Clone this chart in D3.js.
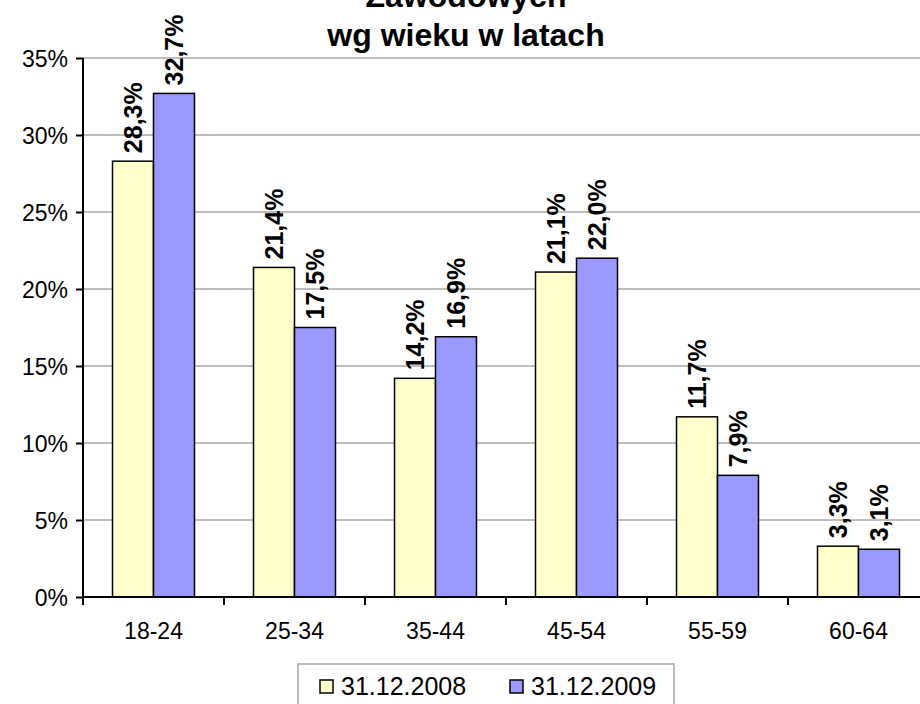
<!DOCTYPE html>
<html>
<head>
<meta charset="utf-8">
<script src="https://cdn.jsdelivr.net/npm/d3@7"></script>
<style>
  body { margin: 0; background: #fff; }
  svg { display: block; font-family: "Liberation Sans", Arial, sans-serif; }
</style>
</head>
<body>
<svg id="chart" width="920" height="704"></svg>
<script>
var categories = ["18-24", "25-34", "35-44", "45-54", "55-59", "60-64"];
var seriesNames = ["31.12.2008", "31.12.2009"];
var values2008 = [28.3, 21.4, 14.2, 21.1, 11.7, 3.3];
var values2009 = [32.7, 17.5, 16.9, 22.0, 7.9, 3.1];
var yTicks = [0, 5, 10, 15, 20, 25, 30, 35];
var colors = ["#FFFFCC", "#9999FF"];

var data = categories.map(function(c, i) {
  return {cat: c, vals: [
    {name: seriesNames[0], v: values2008[i]},
    {name: seriesNames[1], v: values2009[i]}
  ]};
});

var svg = d3.select("#chart");
var plotLeft = 83, plotRight = 929, plotTop = 58, plotBottom = 597;

var x0 = d3.scaleBand().domain(categories).range([plotLeft, plotRight]).padding(0);
var x1 = d3.scaleBand().domain(seriesNames).range([0, x0.bandwidth()]).paddingInner(0).paddingOuter(0.72);
var y = d3.scaleLinear().domain([0, 35]).range([plotBottom, plotTop]);
var z = d3.scaleOrdinal().domain(seriesNames).range(colors);

// gridlines
svg.append("g")
  .selectAll("line")
  .data(yTicks.filter(function(d) { return d > 0; }))
  .enter().append("line")
  .attr("x1", plotLeft).attr("x2", 920)
  .attr("y1", function(d) { return y(d); })
  .attr("y2", function(d) { return y(d); })
  .attr("stroke", "#bdbdbd")
  .attr("stroke-width", 2);

// title
svg.append("text")
  .attr("x", 466).attr("y", 7)
  .attr("text-anchor", "middle")
  .style("font-size", "32px").style("font-weight", "bold")
  .text("Zawodowych");
svg.append("text")
  .attr("x", 466).attr("y", 46)
  .attr("text-anchor", "middle")
  .style("font-size", "32px").style("font-weight", "bold")
  .text("wg wieku w latach");

// bars
var group = svg.selectAll(".cat")
  .data(data)
  .enter().append("g")
  .attr("class", "cat")
  .attr("transform", function(d) { return "translate(" + x0(d.cat) + ",0)"; });

group.selectAll("rect")
  .data(function(d) { return d.vals; })
  .enter().append("rect")
  .attr("x", function(d) { return x1(d.name); })
  .attr("width", x1.bandwidth())
  .attr("y", function(d) { return y(d.v); })
  .attr("height", function(d) { return plotBottom - y(d.v); })
  .attr("fill", function(d) { return z(d.name); })
  .attr("stroke", "#000")
  .attr("stroke-width", 1.5);

group.selectAll("text")
  .data(function(d) { return d.vals; })
  .enter().append("text")
  .attr("transform", function(d) {
    return "translate(" + (x1(d.name) + x1.bandwidth() / 2 + 9) + "," + (y(d.v) - 8) + ") rotate(-90)";
  })
  .style("font-size", "25px").style("font-weight", "bold")
  .text(function(d) { return d.v.toFixed(1).replace(".", ",") + "%"; });

// y axis
var yAxis = svg.append("g")
  .attr("transform", "translate(" + plotLeft + ",0)")
  .call(d3.axisLeft(y).tickValues(yTicks).tickSize(7).tickPadding(8)
    .tickFormat(function(d) { return d + "%"; }));
yAxis.select(".domain").attr("stroke-width", 2).attr("d", "M0," + plotTop + "V" + plotBottom);
yAxis.selectAll(".tick line").attr("stroke-width", 2);
yAxis.selectAll(".tick text").style("font-size", "23px").attr("font-family", null).attr("dy", "0.35em");

// x axis
var xAxis = svg.append("g")
  .attr("transform", "translate(0," + plotBottom + ")")
  .call(d3.axisBottom(x0).tickSize(0).tickPadding(26));
xAxis.select(".domain").attr("stroke-width", 2).attr("d", "M" + plotLeft + ",0H920");
xAxis.selectAll(".tick text").style("font-size", "23px").attr("font-family", null);
xAxis.selectAll(".sep")
  .data(categories)
  .enter().append("line")
  .attr("class", "sep")
  .attr("x1", function(d) { return x0(d); })
  .attr("x2", function(d) { return x0(d); })
  .attr("y1", 0).attr("y2", 8)
  .attr("stroke", "#000").attr("stroke-width", 2);

// legend
var legend = svg.append("g");
legend.append("rect")
  .attr("x", 298).attr("y", 664).attr("width", 376).attr("height", 50)
  .attr("fill", "#fff").attr("stroke", "#bdbdbd").attr("stroke-width", 2);
var item = legend.selectAll(".item")
  .data(seriesNames)
  .enter().append("g")
  .attr("transform", function(d, i) { return "translate(" + (320 + i * 190) + ",0)"; });
item.append("rect")
  .attr("x", 0).attr("y", 680).attr("width", 13).attr("height", 13)
  .attr("fill", function(d) { return z(d); })
  .attr("stroke", "#000").attr("stroke-width", 1.5);
item.append("text")
  .attr("x", 21).attr("y", 695)
  .style("font-size", "25px")
  .text(function(d) { return d; });
</script>
</body>
</html>
